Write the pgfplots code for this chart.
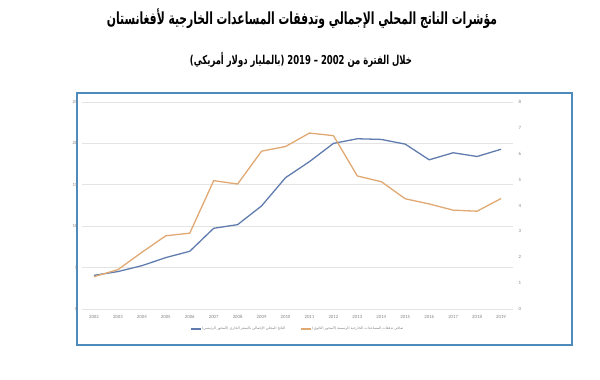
\documentclass[border=0pt]{standalone}
\usepackage{pgfplots}
\pgfplotsset{compat=1.18}
\usepackage{fontspec}
\usepackage{graphicx}
\setmainfont{Carlito}
\newfontfamily\arabicfont[Script=Arabic]{DejaVu Sans}
\TeXXeTstate=1
\definecolor{gdpblue}{RGB}{96,124,174}
\definecolor{aidorange}{RGB}{224,168,114}
\definecolor{frameblue}{RGB}{78,139,189}
\definecolor{gridgray}{RGB}{228,228,228}
\definecolor{labelgray}{RGB}{130,130,130}
\begin{document}
\begin{tikzpicture}[x=1pt,y=1pt]
\path[use as bounding box] (0,0) rectangle (600,380);
\draw[frameblue, line width=2.6pt] (77,35) rectangle (572,287);
\node at (302,361) {\scalebox{1}[1.55]{\resizebox{390pt}{!}{\arabicfont\bfseries\beginR مؤشرات الناتج المحلي الإجمالي وتدفقات المساعدات الخارجية لأفغانستان\endR}}};
\node at (301,320) {\scalebox{1}[1.45]{\resizebox{222pt}{!}{\arabicfont\bfseries\beginR خلال الفترة من \beginL 2019 – 2002\endL{} (بالمليار دولار أمريكي)\endR}}};
\begin{axis}[
  at={(82pt,71pt)}, anchor=south west, scale only axis,
  width=431pt, height=207pt,
  xmin=2001.5, xmax=2019.5, ymin=0, ymax=25,
  xtick={2002,2003,...,2019}, ytick={0,5,...,25},
  axis line style={draw=none}, major tick style={draw=none},
  ymajorgrids, grid style={gridgray, line width=0.7pt},
  ticklabel style={font=\fontsize{4.8}{5}\selectfont, text=labelgray},
  /pgf/number format/assume math mode=true,
  x tick label style={/pgf/number format/1000 sep={}, yshift=-3pt},
  y tick label style={xshift=-1pt},
]
\addplot[gdpblue, line width=1.3pt] coordinates {
(2002,4.06) (2003,4.52) (2004,5.23) (2005,6.21) (2006,6.97) (2007,9.75)
(2008,10.19) (2009,12.45) (2010,15.86) (2011,17.80) (2012,20.00) (2013,20.56)
(2014,20.48) (2015,19.91) (2016,18.02) (2017,18.87) (2018,18.42) (2019,19.29)};
\end{axis}
\begin{axis}[
  at={(82pt,71pt)}, anchor=south west, scale only axis,
  width=431pt, height=207pt,
  xmin=2001.5, xmax=2019.5, ymin=0, ymax=8,
  axis y line*=right, axis x line=none,
  xtick=\empty, ytick={0,1,...,8},
  axis line style={draw=none}, major tick style={draw=none},
  ticklabel style={font=\fontsize{4.8}{5}\selectfont, text=labelgray},
  /pgf/number format/assume math mode=true,
  y tick label style={xshift=2pt},
  legend columns=2,
  legend style={at={(0.499,-0.097)}, anchor=center, draw=none, fill=none,
    font=\fontsize{3.6}{4}\selectfont\arabicfont, text=labelgray,
    /tikz/every even column/.append style={column sep=14pt},
    nodes={inner sep=0.8pt}},
  legend image code/.code={\draw[#1] (0pt,0pt) -- (10pt,0pt);},
]
\addlegendimage{gdpblue, line width=1.3pt}
\addlegendentry{\beginR الناتج المحلي الإجمالي بالسعر الجاري (المحور الرئيسي)\endR}
\addplot[aidorange, line width=1.3pt] coordinates {
(2002,1.25) (2003,1.52) (2004,2.19) (2005,2.83) (2006,2.93) (2007,4.96)
(2008,4.83) (2009,6.10) (2010,6.28) (2011,6.80) (2012,6.70) (2013,5.14)
(2014,4.92) (2015,4.26) (2016,4.06) (2017,3.82) (2018,3.78) (2019,4.27)};
\addlegendentry{\beginR صافي تدفقات المساعدات الخارجية الرسمية (المحور الثانوي)\endR}
\end{axis}
\end{tikzpicture}
\end{document}
